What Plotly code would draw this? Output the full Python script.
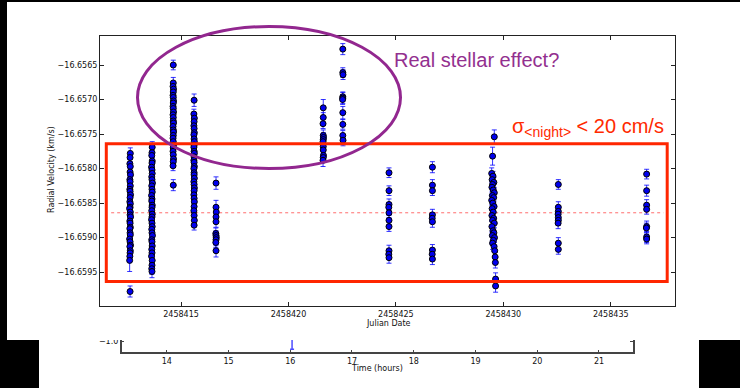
import plotly.graph_objects as go

W, H = 740, 388


def px(x):
    return x / W


def py(y):
    return 1 - y / H


# ---------------- data ----------------
jd_offset = 2458400  # Julian Date = jd_offset + value below

jd_n1 = [12.64, 12.63, 12.62, 12.64, 12.63, 12.65, 12.62, 12.63, 12.64, 12.62,
         12.63, 12.65, 12.63, 12.62, 12.64, 12.63, 12.61, 12.64, 12.63, 12.65,
         12.62, 12.63, 12.64, 12.62, 12.63, 12.64, 12.61, 12.63, 12.65, 12.62,
         12.64, 12.63, 12.62, 12.61, 12.63]
rv_n1 = [-16.65778, -16.65784, -16.65793, -16.65797, -16.65805, -16.65809, -16.65816, -16.65819,
         -16.65825, -16.65830, -16.65833, -16.65838, -16.65842, -16.65848, -16.65851, -16.65856,
         -16.65858, -16.65863, -16.65867, -16.65870, -16.65876, -16.65879, -16.65885, -16.65887,
         -16.65893, -16.65896, -16.65902, -16.65906, -16.65911, -16.65913, -16.65919, -16.65922,
         -16.65927, -16.65933, -16.65978]
err_n1 = [8, 7, 6, 7, 8, 6, 7, 7, 6, 8, 7, 6, 7, 7, 8, 6, 7, 7, 6, 8,
          7, 7, 6, 7, 8, 7, 6, 7, 8, 7, 6, 7, 7, 16, 8]

jd_n2 = [13.66, 13.65, 13.64, 13.66, 13.65, 13.63, 13.65, 13.66, 13.64, 13.65,
         13.67, 13.64, 13.65, 13.66, 13.63, 13.65, 13.64, 13.66, 13.65, 13.64,
         13.66, 13.65, 13.63, 13.65, 13.66, 13.64, 13.65, 13.67, 13.64, 13.65,
         13.66, 13.64, 13.65, 13.63, 13.66, 13.65, 13.64, 13.65]
rv_n2 = [-16.65769, -16.65777, -16.65781, -16.65789, -16.65792, -16.65798, -16.65802, -16.65807,
         -16.65812, -16.65816, -16.65821, -16.65825, -16.65830, -16.65834, -16.65839, -16.65844,
         -16.65847, -16.65853, -16.65856, -16.65861, -16.65866, -16.65870, -16.65874, -16.65879,
         -16.65884, -16.65888, -16.65893, -16.65897, -16.65903, -16.65906, -16.65912, -16.65917,
         -16.65922, -16.65927, -16.65933, -16.65940, -16.65945, -16.65949]
err_n2 = [8, 7, 7, 6, 8, 7, 6, 7, 8, 7, 6, 7, 7, 8, 6, 7, 7, 6, 8, 7,
          7, 6, 7, 8, 7, 6, 7, 7, 8, 6, 7, 7, 6, 8, 7, 7, 8, 9]

jd_n3 = [14.64, 14.64, 14.63, 14.65, 14.64, 14.63, 14.64, 14.65, 14.64, 14.63,
         14.64, 14.65, 14.63, 14.64, 14.64, 14.65, 14.63, 14.64, 14.65, 14.64,
         14.63, 14.64, 14.65, 14.64, 14.63, 14.64, 14.65, 14.64, 14.63, 14.64]
rv_n3 = [-16.65650, -16.65676, -16.65681, -16.65685, -16.65689, -16.65694, -16.65697, -16.65702,
         -16.65705, -16.65710, -16.65713, -16.65718, -16.65722, -16.65726, -16.65731, -16.65734,
         -16.65739, -16.65744, -16.65747, -16.65752, -16.65756, -16.65761, -16.65766, -16.65770,
         -16.65775, -16.65780, -16.65786, -16.65790, -16.65796, -16.65824]
err_n3 = [7, 8, 7, 7, 6, 7, 8, 7, 6, 7, 7, 8, 7, 6, 7, 7, 8, 7, 6, 7,
          7, 7, 8, 6, 7, 7, 6, 8, 7, 8]

jd_n4 = [15.61, 15.60, 15.62, 15.61, 15.60, 15.61, 15.62, 15.60, 15.61, 15.62,
         15.61, 15.60, 15.61, 15.62, 15.61, 15.60, 15.61, 15.62, 15.60, 15.61,
         15.61, 15.62, 15.60, 15.61, 15.62, 15.61, 15.60, 15.61, 15.62, 15.61,
         15.60, 15.61, 15.62, 15.61]
rv_n4 = [-16.65701, -16.65721, -16.65727, -16.65732, -16.65738, -16.65742, -16.65748, -16.65751,
         -16.65757, -16.65761, -16.65766, -16.65769, -16.65775, -16.65778, -16.65783, -16.65788,
         -16.65791, -16.65797, -16.65800, -16.65806, -16.65809, -16.65814, -16.65819, -16.65823,
         -16.65828, -16.65832, -16.65838, -16.65843, -16.65848, -16.65855, -16.65861, -16.65868,
         -16.65875, -16.65882]
err_n4 = [9, 7, 7, 8, 6, 7, 7, 8, 6, 7, 7, 6, 8, 7, 7, 6, 7, 8, 7, 6,
          7, 7, 8, 6, 7, 7, 6, 8, 7, 7, 6, 7, 8, 7]

jd_n5 = [16.63, 16.63, 16.64, 16.63, 16.63, 16.62, 16.63, 16.64, 16.63, 16.62, 16.63]
rv_n5 = [-16.65821, -16.65856, -16.65863, -16.65870, -16.65877, -16.65894, -16.65897,
         -16.65900, -16.65903, -16.65907, -16.65919]
err_n5 = [9, 10, 7, 7, 8, 8, 7, 7, 8, 7, 9]

jd_n6 = [21.62, 21.62, 21.61, 21.62, 21.63, 21.62, 21.61, 21.62, 21.62, 21.63, 21.62, 21.61]
rv_n6 = [-16.65712, -16.65726, -16.65735, -16.65752, -16.65755, -16.65758, -16.65761,
         -16.65768, -16.65773, -16.65781, -16.65784, -16.65788]
err_n6 = [12, 7, 7, 8, 7, 7, 8, 7, 7, 8, 7, 9]

jd_n7 = [22.53, 22.53, 22.54, 22.53, 22.53, 22.52, 22.53, 22.53, 22.53, 22.54]
rv_n7 = [-16.65627, -16.65661, -16.65664, -16.65696, -16.65698, -16.65700, -16.65719,
         -16.65736, -16.65752, -16.65759]
err_n7 = [8, 7, 7, 7, 8, 7, 9, 7, 7, 8]

jd_n8 = [24.68, 24.68, 24.68, 24.67, 24.68, 24.68, 24.68, 24.68, 24.67, 24.68]
rv_n8 = [-16.65806, -16.65832, -16.65852, -16.65856, -16.65864, -16.65875, -16.65884,
         -16.65919, -16.65924, -16.65929]
err_n8 = [7, 7, 8, 7, 7, 7, 7, 8, 7, 8]

jd_n9 = [26.70, 26.70, 26.70, 26.70, 26.69, 26.70, 26.70, 26.69, 26.70]
rv_n9 = [-16.65798, -16.65824, -16.65832, -16.65867, -16.65872, -16.65877, -16.65918,
         -16.65924, -16.65931]
err_n9 = [8, 8, 7, 8, 7, 8, 8, 7, 8]

jd_n10 = [29.58, 29.50, 29.46, 29.52, 29.48, 29.56, 29.50, 29.47, 29.53, 29.58,
          29.49, 29.55, 29.46, 29.51, 29.57, 29.48, 29.53, 29.47, 29.55, 29.50,
          29.58, 29.47, 29.52, 29.56, 29.49, 29.59, 29.54, 29.50, 29.57, 29.60,
          29.62, 29.63, 29.64, 29.64]
rv_n10 = [-16.65754, -16.65782, -16.65807, -16.65811, -16.65816, -16.65820, -16.65823, -16.65827,
          -16.65831, -16.65835, -16.65839, -16.65842, -16.65846, -16.65850, -16.65855, -16.65858,
          -16.65863, -16.65868, -16.65872, -16.65875, -16.65879, -16.65884, -16.65890, -16.65893,
          -16.65897, -16.65900, -16.65904, -16.65908, -16.65913, -16.65919, -16.65928, -16.65936,
          -16.65960, -16.65970]
err_n10 = [10, 13, 8, 7, 8, 7, 9, 7, 8, 7, 8, 7, 7, 9, 8, 7, 7, 8, 7, 9,
           7, 8, 7, 8, 7, 7, 8, 9, 7, 8, 7, 8, 9, 9]

jd_n11 = [32.56, 32.56, 32.56, 32.55, 32.56, 32.56, 32.55, 32.56, 32.56]
rv_n11 = [-16.65823, -16.65856, -16.65862, -16.65866, -16.65871, -16.65875, -16.65879,
          -16.65908, -16.65917]
err_n11 = [7, 8, 7, 7, 8, 7, 8, 8, 7]

jd_n12 = [36.67, 36.67, 36.67, 36.67, 36.67, 36.66, 36.67, 36.67]
rv_n12 = [-16.65808, -16.65832, -16.65853, -16.65859, -16.65884, -16.65886, -16.65899, -16.65902]
err_n12 = [7, 8, 8, 7, 8, 7, 8, 7]

mean_rv = -16.65864
mean_span = [11.75, 37.45]

x_ticks = [2458415, 2458420, 2458425, 2458430, 2458435]
x_ticklabels = ["2458415", "2458420", "2458425", "2458430", "2458435"]
y_ticks = [-16.6565, -16.6570, -16.6575, -16.6580, -16.6585, -16.6590, -16.6595]
y_ticklabels = ["\u221216.6565", "\u221216.6570", "\u221216.6575", "\u221216.6580",
                "\u221216.6585", "\u221216.6590", "\u221216.6595"]

# lower (cropped) panel: time in hours
hour_ticks = [14, 15, 16, 17, 18, 19, 20, 21]
hour_pt = [16.03]
hour_val = [-0.75]
hour_err_up = [0.1]
hour_err_down = [0.70]

# ---------------- build ----------------
all_jd = [jd_n1, jd_n2, jd_n3, jd_n4, jd_n5, jd_n6, jd_n7, jd_n8, jd_n9, jd_n10, jd_n11, jd_n12]
all_rv = [rv_n1, rv_n2, rv_n3, rv_n4, rv_n5, rv_n6, rv_n7, rv_n8, rv_n9, rv_n10, rv_n11, rv_n12]
all_err = [err_n1, err_n2, err_n3, err_n4, err_n5, err_n6, err_n7, err_n8, err_n9, err_n10,
           err_n11, err_n12]

xs, ys, es = [], [], []
for j, r, e in zip(all_jd, all_rv, all_err):
    n = min(len(j), len(r), len(e))
    xs += [jd_offset + v for v in j[:n]]
    ys += r[:n]
    es += [v / 1e5 for v in e[:n]]  # cm/s -> km/s

fig = go.Figure()

fig.add_trace(go.Scatter(
    x=[jd_offset + v for v in mean_span], y=[mean_rv, mean_rv],
    mode="lines", line=dict(color="rgba(255,60,60,0.75)", width=1, dash="dot"),
    hoverinfo="skip", xaxis="x", yaxis="y"))

fig.add_trace(go.Scatter(
    x=xs, y=ys, mode="markers",
    marker=dict(size=6, color="#0000ee", line=dict(color="black", width=1)),
    error_y=dict(type="data", array=es, visible=True, color="rgba(0,0,255,0.8)",
                 thickness=1, width=2.5),
    xaxis="x", yaxis="y"))

fig.add_trace(go.Scatter(
    x=hour_pt, y=hour_val, mode="markers",
    marker=dict(size=6, color="#0000ff", line=dict(color="black", width=1)),
    error_y=dict(type="data", array=hour_err_up, arrayminus=hour_err_down, symmetric=False,
                 visible=True, color="rgba(0,0,255,0.7)", thickness=1.5, width=2),
    xaxis="x2", yaxis="y2"))

tickfont = dict(family="DejaVu Sans", size=8, color="#111")
axis_common = dict(showgrid=False, zeroline=False, showline=True, linecolor="#222",
                   linewidth=1, ticks="inside", ticklen=4, tickcolor="#222",
                   mirror="ticks", tickfont=tickfont)

fig.update_layout(
    width=W, height=H, autosize=False,
    margin=dict(l=0, r=0, t=0, b=0),
    paper_bgcolor="white", plot_bgcolor="white",
    showlegend=False,
    xaxis=dict(domain=[px(100), px(675)], range=[2458411.23, 2458437.99],
               tickvals=x_ticks, ticktext=x_ticklabels, anchor="y", **axis_common),
    yaxis=dict(domain=[py(306), py(36)], range=[-16.65999, -16.65608],
               tickvals=y_ticks, ticktext=y_ticklabels, anchor="x", **axis_common),
    xaxis2=dict(domain=[px(121.7), px(632.7)], range=[13.271, 21.546],
                tickvals=hour_ticks, ticktext=[str(h) for h in hour_ticks], anchor="y2",
                showgrid=False, zeroline=False, showline=True, linecolor="#444",
                linewidth=1.5, ticks="inside", ticklen=3, tickcolor="#444",
                mirror="ticks", tickfont=tickfont),
    yaxis2=dict(domain=[py(352.3), py(334)], range=[-1.617, -0.617],
                tickvals=[-1.0], ticktext=["\u22121.0"], anchor="x2",
                showgrid=False, zeroline=False, showline=True, linecolor="#444",
                linewidth=1.5, ticks="inside", ticklen=3, tickcolor="#444",
                mirror="ticks", tickfont=tickfont),
)

label_font = dict(family="DejaVu Sans", size=8, color="#111")
annotations = [
    dict(text="Julian Date", x=px(388), y=py(323), font=label_font),
    dict(text="Radial Velocity (km/s)", x=px(51), y=py(170), textangle=-90, font=label_font),
    dict(text="Time (hours)", x=px(377), y=py(368), font=label_font),
    dict(text="Real stellar effect?", x=px(392), y=py(60), xanchor="left",
         font=dict(family="Liberation Sans", size=20, color="#93308f")),
    dict(text="\u03c3<sub>&lt;night&gt;</sub> &lt; 20 cm/s", x=px(666), y=py(128),
         xanchor="right", font=dict(family="Liberation Sans", size=20, color="#ff2a00")),
]
for a in annotations:
    a.setdefault("xanchor", "center")
    a.setdefault("yanchor", "middle")
    a.update(xref="paper", yref="paper", showarrow=False)
fig.update_layout(annotations=annotations)


def rect(x0, y0, x1, y1, **kw):
    return dict(type="rect", xref="paper", yref="paper",
                x0=px(x0), x1=px(x1), y0=py(y1), y1=py(y0), layer="above", **kw)


shapes = [
    rect(39, 330, 699, 340, fillcolor="white", line=dict(width=0)),
    rect(0, 0, 740, 2, fillcolor="black", line=dict(width=0)),
    rect(0, 0, 7, 340, fillcolor="black", line=dict(width=0)),
    rect(0, 340, 39, 388, fillcolor="black", line=dict(width=0)),
    rect(699, 340, 740, 388, fillcolor="black", line=dict(width=0)),
    rect(106.3, 143.7, 667.2, 281.5, line=dict(color="#ff2600", width=3)),
    dict(type="circle", xref="paper", yref="paper", layer="above",
         x0=px(137.5), x1=px(400.5), y0=py(168.5), y1=py(26.5),
         line=dict(color="#92278f", width=3)),
]
fig.update_layout(shapes=shapes)

fig.write_html("out.html")
